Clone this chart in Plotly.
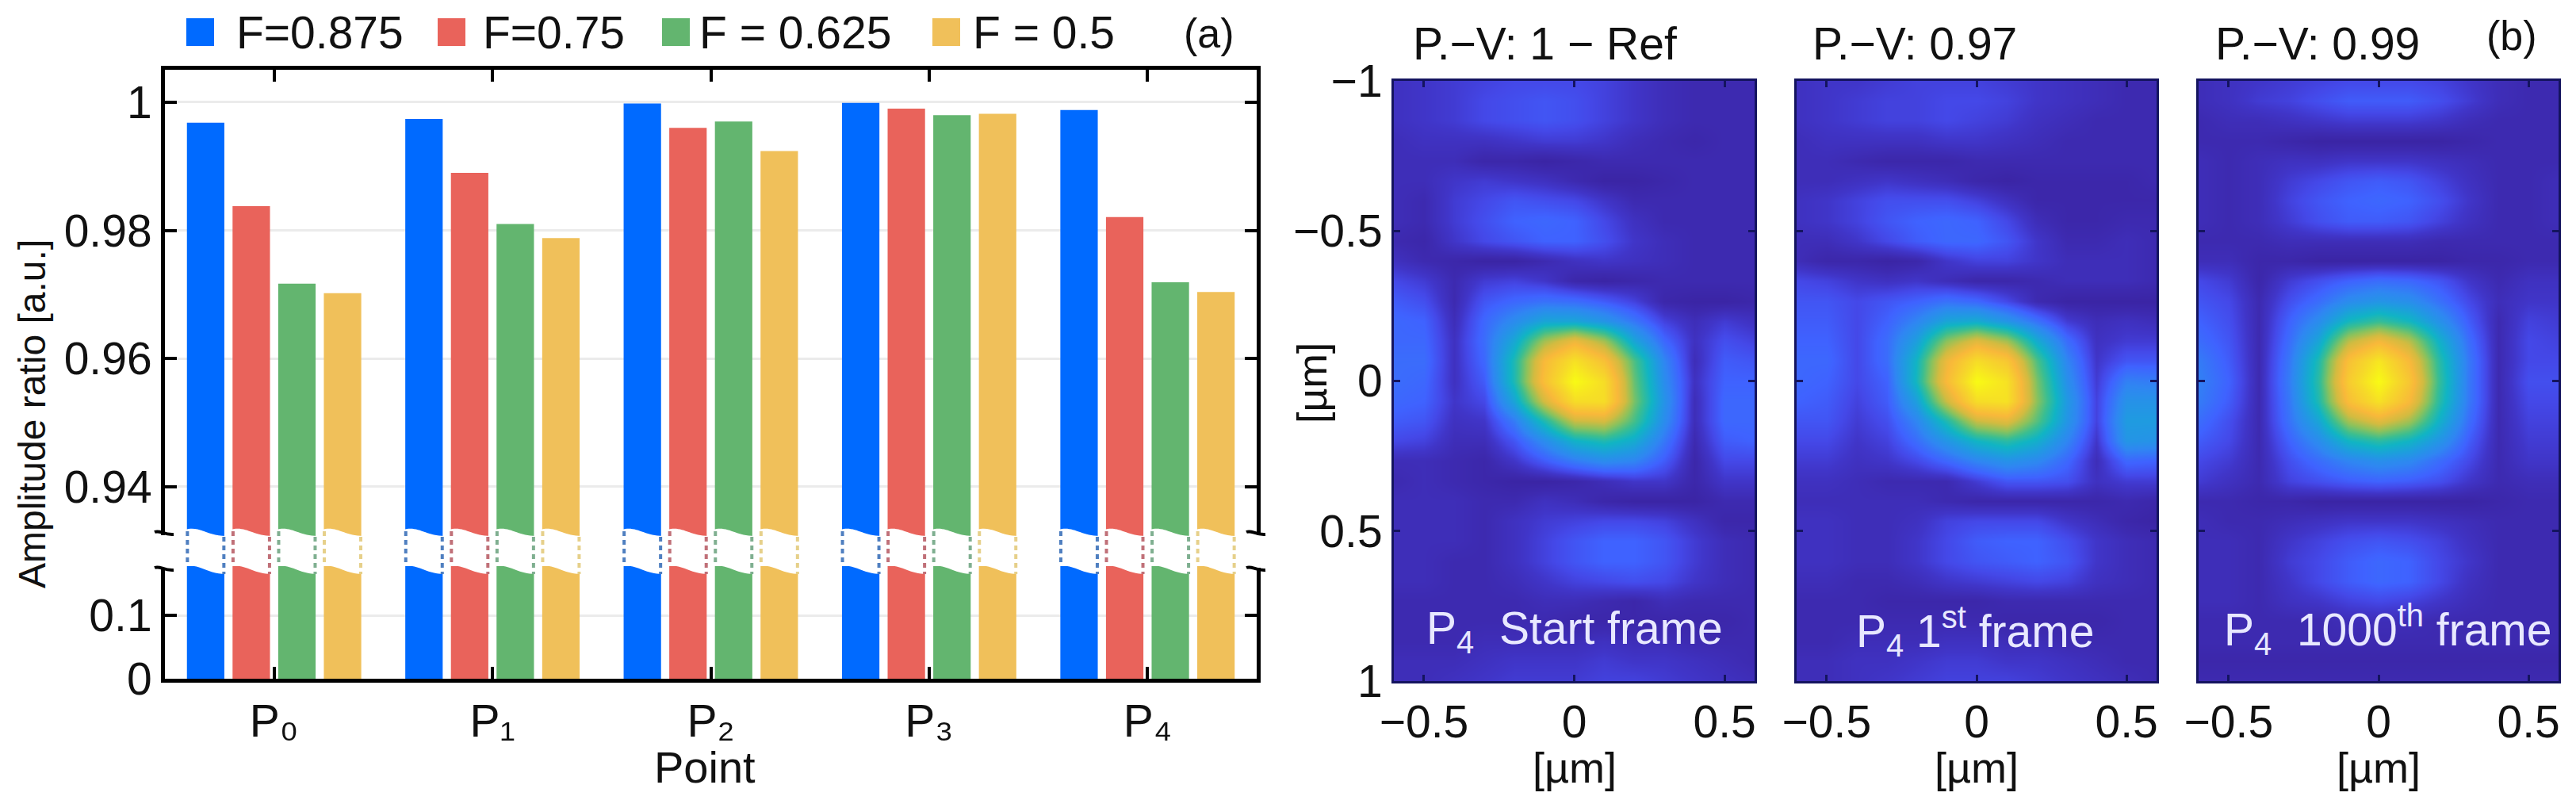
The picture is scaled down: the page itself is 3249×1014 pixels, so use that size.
import numpy as np
import plotly.graph_objects as go

W, H = 3249, 1014
FONT = "Liberation Sans"

# ---------------- data: panel (a) ----------------
points = ["P₀", "P₁", "P₂", "P₃", "P₄"]
series_names = ["F=0.875", "F=0.75", "F = 0.625", "F = 0.5"]
f_0875 = [0.9968, 0.9974, 0.9998, 0.9999, 0.9988]
f_075 = [0.9838, 0.9890, 0.9960, 0.9990, 0.9821]
f_0625 = [0.9717, 0.9810, 0.9970, 0.9980, 0.9719]
f_05 = [0.9702, 0.9788, 0.9924, 0.9982, 0.9704]
colors = ["#006AFF", "#E9635B", "#63B56F", "#F0C05A"]
dash_colors = ["#4F7FC0", "#C07078", "#7FAF90", "#E6D08A"]

# ---------------- data: panel (b), values in percent of peak, read by eye ----------------
x_um = [-0.6, -0.5, -0.4, -0.3, -0.2, -0.1, 0, 0.1, 0.2, 0.3, 0.4, 0.5, 0.6]
start_frame = [
    [5,6,7,8,9,9,9,8,6,4,3,3,3],
    [5,6,7,9,10,11,10,8,6,4,3,3,3],
    [5,6,7,9,10,11,10,8,6,4,3,3,3],
    [4,5,5,5,6,7,7,6,4,3,2,3,3],
    [4,4,4,2,2,1,2,3,3,3,3,3,3],
    [4,4,6,7,6,5,3,1,1,2,3,3,3],
    [4,3,7,9,11,10,9,6,3,3,3,3,3],
    [4,3,7,10,13,14,13,9,5,3,3,3,3],
    [3,2,6,9,11,13,13,10,6,4,3,3,3],
    [5,3,2,1,1,3,5,6,5,4,3,3,3],
    [9,7,3,7,8,6,2,1,2,3,3,3,3],
    [12,10,3,11,14,16,15,12,8,2,1,1,2],
    [14,13,4,14,22,30,30,25,17,8,4,7,5],
    [14,14,5,15,31,55,68,55,30,14,5,10,8],
    [15,15,5,14,38,72,90,75,45,20,4,12,11],
    [15,14,5,12,38,75,100,88,48,22,5,13,13],
    [14,13,6,9,30,62,88,88,50,24,4,14,14],
    [12,11,5,6,18,38,60,62,44,22,4,14,14],
    [9,8,4,4,11,22,34,38,32,17,3,12,13],
    [4,4,3,2,6,12,18,22,20,12,2,9,9],
    [3,4,3,2,1,1,2,4,6,6,2,6,6],
    [4,4,4,3,3,5,4,2,1,1,1,3,3],
    [4,4,4,3,5,7,8,9,9,8,5,2,2],
    [4,4,4,3,5,8,11,13,13,11,7,4,3],
    [4,4,3,3,5,8,11,13,13,11,7,4,3],
    [4,4,3,3,4,6,8,9,10,9,6,4,3],
    [3,3,3,3,3,4,4,3,2,4,3,3,3],
    [3,3,3,3,3,3,2,2,2,2,2,2,3],
    [3,3,3,4,4,4,4,5,4,4,3,3,3],
    [4,4,4,5,6,6,6,7,6,6,5,4,3],
    [4,4,5,6,7,7,7,8,8,7,6,5,4],
]
first_frame = [
    [5,6,6,7,8,8,8,7,6,5,4,3,3],
    [5,6,7,8,8,9,9,8,6,5,4,3,3],
    [5,6,7,8,8,9,8,7,5,4,3,3,3],
    [4,5,5,5,5,6,6,5,4,3,3,3,3],
    [4,4,3,2,2,2,3,3,3,3,3,3,3],
    [4,4,5,6,5,4,2,1,2,2,2,2,3],
    [5,6,8,10,10,10,8,5,2,2,2,2,2],
    [5,6,8,11,13,14,13,9,4,2,2,3,3],
    [4,4,6,9,12,14,14,11,6,3,3,4,3],
    [4,2,2,1,2,6,8,8,6,4,4,4,3],
    [9,8,6,5,6,4,2,2,3,4,4,4,3],
    [11,11,9,11,13,16,14,9,3,1,1,1,1],
    [12,12,9,13,20,30,32,25,16,7,4,5,4],
    [13,13,9,15,28,52,65,55,32,15,5,7,7],
    [14,14,9,15,35,68,88,78,45,20,6,11,11],
    [14,13,9,13,36,72,100,90,50,23,7,19,18],
    [13,12,8,12,28,60,88,90,52,26,8,24,24],
    [11,11,7,10,20,38,60,65,46,25,8,27,27],
    [9,9,6,8,15,25,35,40,33,20,6,25,24],
    [7,7,5,6,9,14,20,24,21,14,4,14,13],
    [5,5,4,3,3,3,7,11,11,10,5,7,7],
    [4,4,4,4,4,3,2,2,2,2,2,3,2],
    [5,5,4,4,5,8,9,9,9,6,4,2,1],
    [5,5,4,4,6,9,12,13,13,10,6,4,3],
    [5,5,4,4,6,9,11,12,13,11,6,4,3],
    [4,4,3,3,4,6,7,8,9,8,5,4,3],
    [3,3,3,2,2,2,2,3,3,3,3,3,3],
    [3,3,3,3,3,3,3,2,2,2,2,3,3],
    [3,3,4,4,4,5,5,4,4,3,3,3,3],
    [4,4,5,5,6,7,7,6,6,5,4,3,3],
    [4,4,5,6,7,8,8,8,7,6,5,4,3],
]
last_frame = [
    [4,5,6,7,8,9,9,9,8,6,4,3,3],
    [4,5,7,8,10,12,12,12,10,7,4,3,3],
    [3,4,4,5,6,7,7,7,6,4,3,3,3],
    [3,3,3,2,1,1,1,1,1,2,3,3,3],
    [4,3,4,5,5,6,6,6,5,4,3,3,3],
    [4,3,4,7,9,11,12,11,8,5,3,3,4],
    [4,3,4,8,11,13,14,13,10,6,3,3,4],
    [4,3,4,7,10,12,12,11,8,5,3,3,4],
    [3,3,3,4,4,4,4,4,3,3,3,3,3],
    [4,4,2,2,1,1,1,1,1,2,2,3,3],
    [9,7,2,7,10,13,15,14,11,6,3,5,5],
    [11,9,3,10,15,22,25,23,16,9,4,6,6],
    [13,10,3,13,22,36,42,36,24,12,3,8,7],
    [15,11,3,15,30,58,70,58,34,15,3,9,8],
    [18,12,3,17,38,75,92,72,40,17,3,9,9],
    [19,13,3,18,40,80,100,78,42,17,3,10,10],
    [18,12,3,17,38,74,90,72,40,17,3,9,9],
    [15,10,3,16,30,55,65,55,34,15,3,8,8],
    [12,9,3,13,22,35,40,35,25,12,3,7,7],
    [9,7,3,10,15,20,23,21,15,9,3,6,6],
    [7,5,3,8,10,12,13,12,10,6,3,4,4],
    [3,3,2,2,1,1,1,1,1,1,2,3,3],
    [4,3,3,4,5,6,6,6,5,4,3,3,3],
    [4,4,3,6,8,10,11,10,8,5,3,3,3],
    [4,4,3,7,9,12,14,13,9,6,3,3,3],
    [4,4,3,6,9,12,14,13,9,5,3,3,3],
    [4,4,3,5,6,8,9,8,6,4,3,3,3],
    [3,3,3,3,3,4,4,4,3,3,3,3,3],
    [3,3,3,3,3,3,3,3,3,3,3,3,3],
    [2,2,2,2,2,2,2,2,2,2,2,2,2],
    [3,3,3,3,3,3,3,3,3,3,3,3,3],
]
parula = [
    [0.00, "#39229F"], [0.03, "#3D2AB0"], [0.06, "#4035C8"], [0.09, "#4448E8"], [0.13, "#3F62FF"],
    [0.20, "#2F86F2"], [0.27, "#1F9BE0"], [0.35, "#10B4C4"], [0.43, "#3BBE90"],
    [0.52, "#8BC25C"], [0.61, "#D2BB40"], [0.71, "#F8B83A"], [0.87, "#F6DA28"],
    [1.00, "#F8FA14"],
]


def PX(p):
    return p / W


def PY(p):
    return 1 - p / H


fig = go.Figure()
all_series = [f_0875, f_075, f_0625, f_05]
cat_x = list(range(len(points)))
for name, vals, col in zip(series_names, all_series, colors):
    fig.add_bar(x=cat_x, y=vals, name=name, marker_color=col, xaxis="x2", yaxis="y", showlegend=False)
    fig.add_bar(x=cat_x, y=vals, name=name, marker_color=col, xaxis="x", yaxis="y2", showlegend=False)

panels = [
    (start_frame, 1758, 2213, "x3", "y3"),
    (first_frame, 2266, 2720, "x4", "y4"),
    (last_frame, 2773, 3227, "x5", "y5"),
]
for z, left, right, xa, ya in panels:
    n = len(z)
    y_um = [round(-1 + 2 * i / (n - 1), 4) for i in range(n)]
    fig.add_heatmap(z=z, x=x_um, y=y_um, xaxis=xa, yaxis=ya, colorscale=parula, zmin=0, zmax=100,
                    zsmooth="best", showscale=False)

tickfont = dict(family=FONT, size=57, color="#111")
layout = dict(
    template="none",
    width=W, height=H, autosize=False, margin=dict(l=0, r=0, t=0, b=0, pad=0),
    paper_bgcolor="white", plot_bgcolor="white", barmode="group", bargap=0.164, bargroupgap=0.18,
    font=dict(family=FONT, size=57, color="#111"), showlegend=False,
)
A_LEFT, A_RIGHT, A_TOP, A_UP_BOT, A_LOW_TOP, A_BOT = 208, 1585, 88, 678, 714, 856
xdom = [PX(A_LEFT), PX(A_RIGHT)]
axk = dict(showline=True, linecolor="black", linewidth=5, ticks="inside", ticklen=15, tickwidth=4, tickcolor="black",
           tickfont=tickfont, zeroline=False, automargin=False)
layout["xaxis"] = dict(domain=xdom, anchor="y2", range=[-0.5, 4.5], tickmode="array", tickvals=cat_x, ticktext=points,
                       showgrid=False, **axk)
layout["xaxis2"] = dict(domain=xdom, anchor="y", side="top", range=[-0.5, 4.5], tickmode="array", tickvals=cat_x,
                        showticklabels=False, showgrid=False, **axk)
layout["yaxis"] = dict(domain=[PY(A_UP_BOT), PY(A_TOP)], anchor="x2", range=[0.93208, 1.00507], tickmode="array",
                       tickvals=[0.94, 0.96, 0.98, 1], ticktext=["0.94", "0.96", "0.98", "1"], mirror="ticks",
                       showgrid=True, gridcolor="#ebebeb", gridwidth=3, **axk)
layout["yaxis2"] = dict(domain=[PY(A_BOT), PY(A_LOW_TOP)], anchor="x", range=[0, 0.1775], tickmode="array",
                        tickvals=[0, 0.1], ticktext=["0", "0.1"], mirror="ticks",
                        showgrid=True, gridcolor="#ebebeb", gridwidth=3, **axk)

hk = dict(showline=True, linecolor="#14145f", linewidth=3, ticks="inside", ticklen=8, tickwidth=3, tickcolor="#14145f",
          mirror="ticks", showgrid=False, zeroline=False, tickfont=tickfont, automargin=False)
for idx, (z, left, right, xa, ya) in enumerate(panels):
    xk = "xaxis" + xa[1:]
    yk = "yaxis" + ya[1:]
    layout[xk] = dict(domain=[PX(left), PX(right)], anchor=ya, range=[-0.6, 0.6], tickmode="array",
                      tickvals=[-0.5, 0, 0.5], ticktext=["−0.5", "0", "0.5"], **hk)
    layout[yk] = dict(domain=[PY(859), PY(102)], anchor=xa, range=[1, -1], tickmode="array",
                      tickvals=[-1, -0.5, 0, 0.5, 1], ticktext=["−1", "−0.5", "0", "0.5", "1"],
                      showticklabels=idx == 0, **hk)

# axis-break decoration + legend swatches
shapes = []
pitch = 0.209
half = 0.0855
for i in cat_x:
    for j, (c, dc) in enumerate(zip(colors, dash_colors)):
        xc = i + (j - 1.5) * pitch
        x0, x1 = xc - half, xc + half
        w = x1 - x0
        pad = 0.008
        path = (f"M {x0-pad},{PY(668)} C {x0+.35*w},{PY(663)} {x0+.55*w},{PY(676)} {x1+pad},{PY(676)} "
                f"L {x1+pad},{PY(724)} C {x0+.55*w},{PY(724)} {x0+.35*w},{PY(711)} {x0-pad},{PY(714)} Z")
        shapes.append(dict(type="path", path=path, xref="x", yref="paper", fillcolor="white",
                           line=dict(width=0), layer="above"))
        shapes.append(dict(type="line", xref="x", yref="paper", x0=x0 + 0.002, x1=x0 + 0.002, y0=PY(670), y1=PY(714),
                           line=dict(color=dc, width=4, dash="6px,5px"), layer="above"))
        shapes.append(dict(type="line", xref="x", yref="paper", x0=x1 - 0.002, x1=x1 - 0.002, y0=PY(677), y1=PY(724),
                           line=dict(color=dc, width=4, dash="6px,5px"), layer="above"))
for ax in (A_LEFT, A_RIGHT):
    shapes.append(dict(type="rect", xref="paper", yref="paper", x0=PX(ax - 6), x1=PX(ax + 6), y0=PY(716), y1=PY(675),
                       fillcolor="white", line=dict(width=0), layer="above"))
    shapes.append(dict(type="path", xref="paper", yref="paper",
                       path=f"M {PX(ax-13)},{PY(671)} C {PX(ax-6)},{PY(668)} {PX(ax-2)},{PY(675)} {PX(ax+11)},{PY(674)}",
                       line=dict(color="black", width=4), layer="above"))
    shapes.append(dict(type="path", xref="paper", yref="paper",
                       path=f"M {PX(ax-13)},{PY(716)} C {PX(ax-6)},{PY(713)} {PX(ax-2)},{PY(720)} {PX(ax+11)},{PY(719)}",
                       line=dict(color="black", width=4), layer="above"))

legend_swatch_x = [235, 552, 835, 1176]
legend_text_x = [296, 607, 880, 1225]
for sx, c in zip(legend_swatch_x, colors):
    shapes.append(dict(type="rect", xref="paper", yref="paper", x0=PX(sx), x1=PX(sx + 35), y0=PY(58), y1=PY(23),
                       fillcolor=c, line=dict(width=0)))
layout["shapes"] = shapes


def note(text, x, y, size=57, xanchor="left", color="#111", textangle=0):
    return dict(text=text, x=PX(x), y=PY(y), xref="paper", yref="paper", xanchor=xanchor, yanchor="middle",
                showarrow=False, textangle=textangle, font=dict(family=FONT, size=size, color=color))


notes = [note(n, tx, 41, 57) for n, tx in zip(series_names, legend_text_x)]
notes += [
    note("(a)", 1525, 42, 52, "center"),
    note("(b)", 3168, 45, 52, "center"),
    note("Amplitude ratio [a.u.]", 40, 522, 48, "center", textangle=-90),
    note("Point", 889, 967, 56, "center"),
    note("[µm]", 1655, 483, 52, "center", textangle=-90),
    note("[µm]", 1986, 968, 54, "center"),
    note("[µm]", 2493, 968, 54, "center"),
    note("[µm]", 3000, 968, 54, "center"),
    note("P.−V: 1 − Ref", 1780, 55, 57),
    note("P.−V: 0.97", 2284, 55, 57),
    note("P.−V: 0.99", 2792, 55, 57),
    note("P<sub>4</sub>\u00a0\u00a0Start frame", 1986, 796, 57, "center", "#E8E8FF"),
    note("P<sub>4</sub>\u00a01<sup>st</sup>\u00a0frame", 2491, 796, 57, "center", "#E8E8FF"),
    note("P<sub>4</sub>\u00a0\u00a01000<sup>th</sup>\u00a0frame", 3012, 794, 57, "center", "#E8E8FF"),
]
layout["annotations"] = notes
fig.update_layout(**layout)
fig.write_html("out.html", config={"displayModeBar": False}, post_script="document.body.style.margin='0';")
